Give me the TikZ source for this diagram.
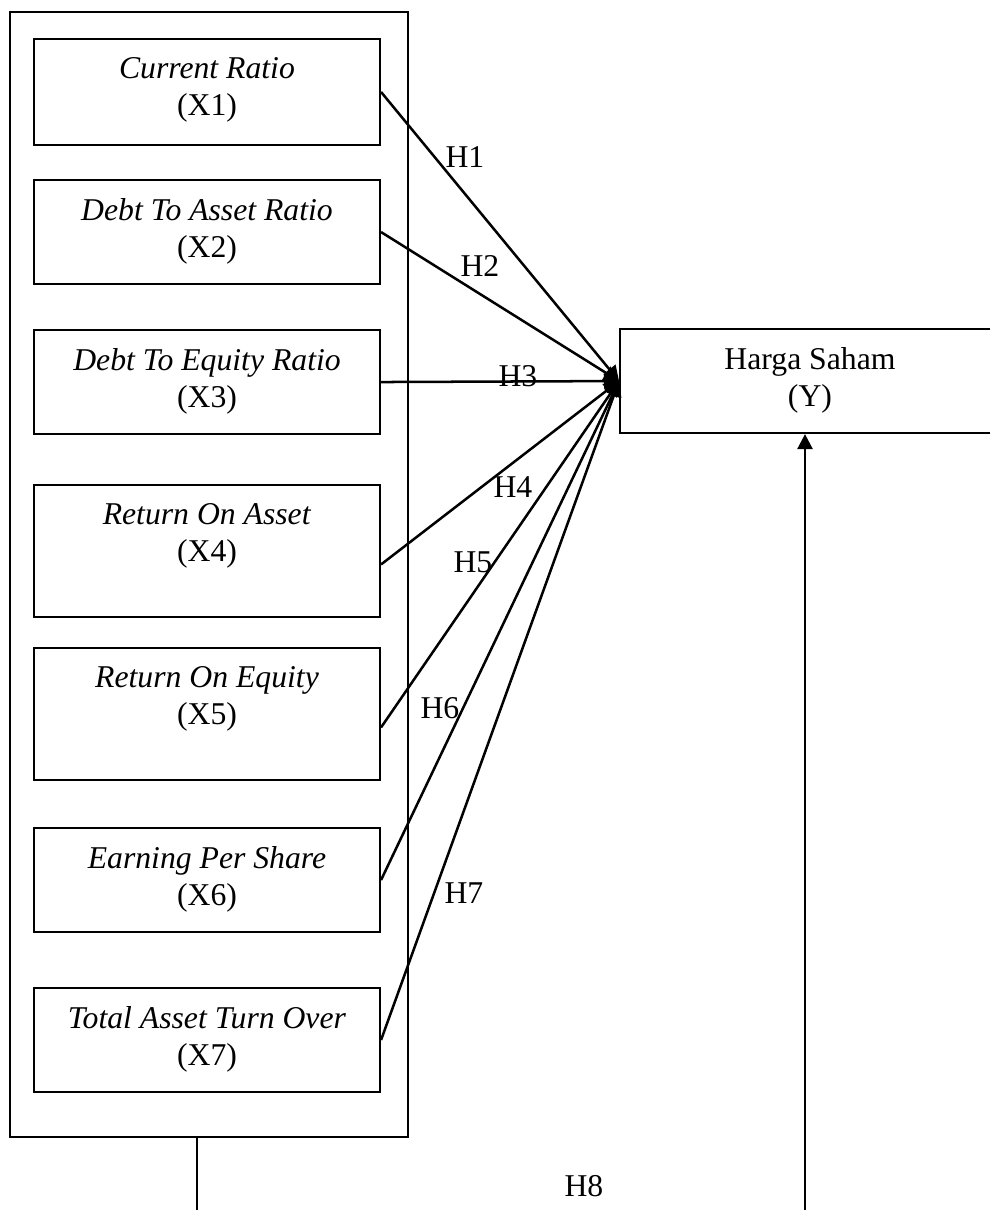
\documentclass[tikz,border=0pt]{standalone}
\usepackage{fontspec}
\setmainfont{Liberation Serif}
\usetikzlibrary{positioning,calc,arrows.meta}
\tikzset{
  varbox/.style={draw,line width=0.75pt,minimum width=131pt,anchor=north,inner sep=0pt},
  vartext/.style={anchor=north,align=center,inner sep=0pt,font=\fontsize{12}{14}\selectfont},
  hlab/.style={anchor=base west,inner sep=0pt,font=\fontsize{12}{14}\selectfont},
  link/.style={line width=0.95pt,-{Triangle[length=5.7pt,width=5.7pt]}}
}

\begin{document}
\begin{tikzpicture}[x=0.3785pt,y=-0.3785pt]
\useasboundingbox (0,0) rectangle (990,1210);
% Outer frame round the independent variables
\node [draw,line width=0.75pt,minimum width=150.6pt,minimum height=425.8pt,inner sep=0pt] (outer) at (209,574.5) {};
% Independent variables X1 .. X7
\node [varbox,minimum height=40.1pt] (x1) at (207,38) {};
\node [varbox,minimum height=39.4pt] (x2) at (207,179) {};
\node [varbox,minimum height=39.4pt] (x3) at (207,329) {};
\node [varbox,minimum height=50pt] (x4) at (207,484) {};
\node [varbox,minimum height=50pt] (x5) at (207,647) {};
\node [varbox,minimum height=39.4pt] (x6) at (207,827) {};
\node [varbox,minimum height=39.4pt] (x7) at (207,987) {};
\node [vartext] (t1) at ([yshift=-7pt]x1.north) {\textit{Current Ratio}\\(X1)};
\node [vartext] (t2) at ([yshift=-7pt]x2.north) {\textit{Debt To Asset Ratio}\\(X2)};
\node [vartext] (t3) at ([yshift=-7pt]x3.north) {\textit{Debt To Equity Ratio}\\(X3)};
\node [vartext] (t4) at ([yshift=-7pt]x4.north) {\textit{Return On Asset}\\(X4)};
\node [vartext] (t5) at ([yshift=-7pt]x5.north) {\textit{Return On Equity}\\(X5)};
\node [vartext] (t6) at ([yshift=-7pt]x6.north) {\textit{Earning Per Share}\\(X6)};
\node [vartext] (t7) at ([yshift=-7pt]x7.north) {\textit{Total Asset Turn Over}\\(X7)};
% Dependent variable Y
\node [varbox,minimum width=143.8pt,minimum height=39.4pt] (y) at (810,328) {};
\node [vartext] (ty) at ([yshift=-7pt]y.north) {Harga Saham\\(Y)};
% Hypotheses H1 .. H7
\draw [link] (x1.east) -- (y.west);
\draw [link] (x2.east) -- (y.west);
\draw [link] (x3.east) -- (y.west);
\draw [link] ($(x4.north east)!0.6!(x4.south east)$) -- (y.west);
\draw [link] ($(x5.north east)!0.6!(x5.south east)$) -- (y.west);
\draw [link] (x6.east) -- (y.west);
\draw [link] (x7.east) -- (y.west);
\node [hlab] (h1) at (445,167) {H1};
\node [hlab] (h2) at (460,276) {H2};
\node [hlab] (h3) at (498,386) {H3};
\node [hlab] (h4) at (493,497) {H4};
\node [hlab] (h5) at (453,572) {H5};
\node [hlab] (h6) at (420,718) {H6};
\node [hlab] (h7) at (444,903) {H7};
% Simultaneous effect H8
\coordinate (lb) at (197,1214);
\coordinate (rb) at (805,1214);
\draw [line width=0.8pt] (lb |- outer.south) -- (lb);
\draw [link] (rb) -- (rb |- y.south);
\node [hlab] (h8) at (564,1196) {H8};
\end{tikzpicture}
\end{document}
